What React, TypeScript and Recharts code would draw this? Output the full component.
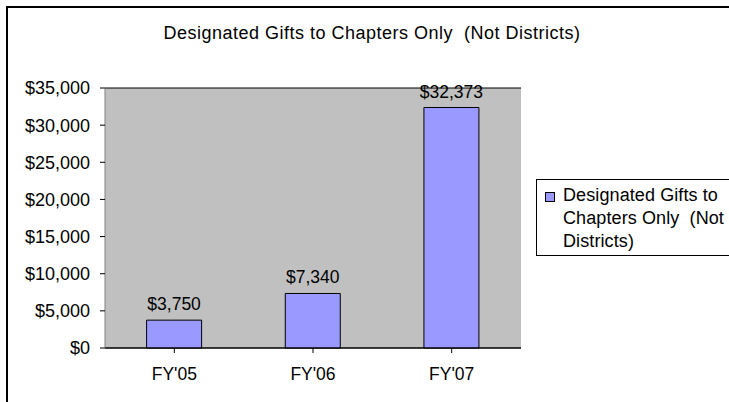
import React from "react";
import { BarChart, Bar, XAxis, YAxis, CartesianGrid, LabelList } from "recharts";

const categories = ["FY'05", "FY'06", "FY'07"];
const gifts = [3750, 7340, 32373];
const yTicks = [0, 5000, 10000, 15000, 20000, 25000, 30000, 35000];
const legendLines = ["Designated Gifts to", "Chapters Only  (Not", "Districts)"];
const title = "Designated Gifts to Chapters Only  (Not Districts)";

const chartData = categories.map((c, i) => ({ name: c, value: gifts[i] }));

const FONT = "'Liberation Sans', Arial, sans-serif";
const money = (v: any) => "$" + Number(v).toLocaleString("en-US");

const LegendBox = () => (
  <div
    style={{
      position: "absolute",
      left: 536,
      top: 179,
      width: 193,
      height: 77,
      border: "1px solid #000",
      borderRight: "none",
      boxSizing: "border-box",
      background: "#fff",
      fontFamily: FONT,
      fontSize: 18,
      letterSpacing: 0.1,
      lineHeight: "23px",
      color: "#000",
      padding: "4px 0 0 8px",
      display: "flex",
      alignItems: "flex-start",
    }}
  >
    <span
      style={{
        display: "inline-block",
        width: 8,
        height: 8,
        background: "#9999FF",
        border: "1px solid #000",
        marginTop: 8,
        marginRight: 8,
        flex: "0 0 auto",
      }}
    />
    <span style={{ whiteSpace: "pre" }}>{legendLines.join("\n")}</span>
  </div>
);

const App: React.FC = () => {
  return (
    <div style={{ position: "absolute", left: 0, top: 0, width: 729, height: 402, background: "#fff", overflow: "hidden" }}>
      <div
        style={{
          position: "absolute",
          left: 6,
          top: 6,
          width: 740,
          height: 420,
          borderLeft: "2px solid #000",
          borderTop: "2px solid #000",
        }}
      />
      <div
        style={{
          position: "absolute",
          left: 0,
          top: 23,
          width: 744,
          textAlign: "center",
          fontFamily: FONT,
          fontSize: 18,
          letterSpacing: 0.5,
          whiteSpace: "pre",
          color: "#000",
        }}
      >
        {title}
      </div>
      <div style={{ position: "absolute", left: 0, top: 0 }}>
        <BarChart
          width={729}
          height={402}
          data={chartData}
          margin={{ top: 88, right: 208, left: 0, bottom: 0 }}
          barCategoryGap="30%"
        >
          <CartesianGrid vertical={false} stroke="#000" fill="#C0C0C0" fillOpacity={1} />
          <XAxis
            dataKey="name"
            height={54}
            tickLine={{ stroke: "#000" }}
            tickSize={5}
            axisLine={{ stroke: "#000" }}
            tick={{ fill: "#000", fontSize: 17.5, fontFamily: FONT }}
            tickMargin={15}
            interval={0}
          />
          <YAxis
            yAxisId="left"
            width={105}
            domain={[0, 35000]}
            ticks={yTicks}
            tickFormatter={money}
            tickLine={{ stroke: "#000" }}
            tickSize={5}
            tickMargin={10}
            axisLine={{ stroke: "#808080" }}
            tick={{ fill: "#000", fontSize: 18, fontFamily: FONT }}
            interval={0}
          />
          <YAxis
            yAxisId="right"
            orientation="right"
            width={0}
            domain={[0, 35000]}
            tick={false}
            tickLine={false}
            axisLine={{ stroke: "#808080" }}
          />
          <Bar
            yAxisId="left"
            dataKey="value"
            name={legendLines.join(" ")}
            fill="#9999FF"
            stroke="#000"
            strokeWidth={1}
            isAnimationActive={false}
          >
            <LabelList
              dataKey="value"
              position="top"
              offset={10}
              formatter={money}
              style={{ fill: "#000", fontSize: 17.5, fontFamily: FONT }}
            />
          </Bar>
        </BarChart>
      </div>
      <LegendBox />
    </div>
  );
};

export default App;
